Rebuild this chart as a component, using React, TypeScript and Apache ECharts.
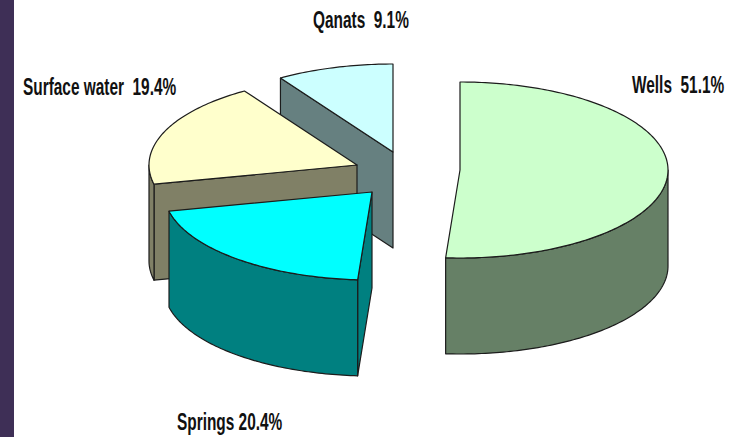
import React, { useEffect, useRef } from "react";
import * as echarts from "echarts";

// ---- data ----
const NAMES = ["Wells", "Springs", "Surface water", "Qanats"];
const VALUES = [51.1, 20.4, 19.4, 9.1];
const LABEL_GAPS = ["  ", " ", "  ", "  "];

// ---- style ----
const TOP_COLORS = ["#ccffcc", "#00ffff", "#ffffcc", "#ccffff"];
const SIDE_COLORS = ["#668066", "#008080", "#808066", "#668080"];
const EDGE = "#1c1c1c";
const LABEL_FONT = 'bold 23px "Liberation Sans", Arial, sans-serif';

// ---- layout ----
const PIE_CENTER = [400, 165];
const RX = 208;
const RY = 88;
const DEPTH = 96;
const EXPLODE = [
  [60, 5],
  [-28, 27],
  [-43, 0],
  [-7, -13],
];
const LABEL_POS = [
  [632, 85],
  [177, 422],
  [23, 87],
  [313, 20],
];
const LABEL_SCALE_X = 0.67;

const TOTAL = VALUES.reduce((s, v) => s + v, 0);
const STARTS = VALUES.map((_, i) => VALUES.slice(0, i).reduce((s, v) => s + v, 0));

function pt(cx: number, cy: number, t: number, dy = 0): number[] {
  return [cx + RX * Math.sin(t), cy - RY * Math.cos(t) + dy];
}
function arc(cx: number, cy: number, s: number, e: number, dy = 0): number[][] {
  const n = Math.max(2, Math.ceil(((e - s) * 180) / Math.PI));
  const out: number[][] = [];
  for (let k = 0; k <= n; k++) out.push(pt(cx, cy, s + ((e - s) * k) / n, dy));
  return out;
}

// drawing rank: back slices first (by front-ness of mid angle)
const MIDS = VALUES.map((v, i) => ((STARTS[i] + v / 2) / TOTAL) * Math.PI * 2);
const ORDER = MIDS.map((m, i) => i).sort((a, b) => Math.cos(MIDS[b]) - Math.cos(MIDS[a]));
const RANK: number[] = [];
ORDER.forEach((idx, r) => (RANK[idx] = r));

export default function App() {
  const ref = useRef<HTMLDivElement>(null);
  useEffect(() => {
    if (!ref.current) return;
    const chart = echarts.init(ref.current, undefined, { renderer: "svg" });
    const renderItem = (params: any, api: any) => {
      const i = params.dataIndex;
      const v = api.value(0);
      const t1 = (STARTS[i] / TOTAL) * Math.PI * 2;
      const t2 = t1 + (v / TOTAL) * Math.PI * 2;
      const cx = PIE_CENTER[0] + EXPLODE[i][0];
      const cy = PIE_CENTER[1] + EXPLODE[i][1];
      const base = RANK[i] * 10;
      const children: any[] = [];
      const sideStyle = { fill: SIDE_COLORS[i], stroke: EDGE, lineWidth: 1.2, lineJoin: "round" };
      const face = (t: number) => {
        const p = pt(cx, cy, t);
        return [[cx, cy], p, [p[0], p[1] + DEPTH], [cx, cy + DEPTH]];
      };
      if (-Math.sin(t1) > 1e-3) {
        children.push({ type: "polygon", z2: base + 1, shape: { points: face(t1) }, style: sideStyle });
      }
      if (Math.sin(t2) > 1e-3) {
        children.push({ type: "polygon", z2: base + 1, shape: { points: face(t2) }, style: sideStyle });
      }
      const ws = Math.max(t1, Math.PI / 2);
      const we = Math.min(t2, (Math.PI * 3) / 2);
      if (ws < we) {
        const pts = arc(cx, cy, ws, we).concat(arc(cx, cy, ws, we, DEPTH).reverse());
        children.push({ type: "polygon", z2: base + 2, shape: { points: pts }, style: sideStyle });
      }
      children.push({
        type: "polygon",
        z2: base + 3,
        shape: { points: [[cx, cy]].concat(arc(cx, cy, t1, t2)) },
        style: { fill: TOP_COLORS[i], stroke: EDGE, lineWidth: 1.2, lineJoin: "round" },
      });
      children.push({
        type: "text",
        z2: 100,
        x: LABEL_POS[i][0],
        y: LABEL_POS[i][1],
        scaleX: LABEL_SCALE_X,
        style: {
          text: `${NAMES[i]}${LABEL_GAPS[i]}${v}%`,
          font: LABEL_FONT,
          fill: "#111111",
          align: "left",
          verticalAlign: "middle",
        },
      });
      return { type: "group", children };
    };
    chart.setOption({
      animation: false,
      backgroundColor: "#ffffff",
      graphic: [
        {
          type: "rect",
          left: 0,
          top: 0,
          shape: { x: 0, y: 0, width: 14, height: 437 },
          style: { fill: "#3e2f56" },
        },
      ],
      series: [
        {
          type: "custom",
          coordinateSystem: "none",
          silent: true,
          data: VALUES.map((v, i) => ({ name: NAMES[i], value: [v] })),
          renderItem,
        },
      ],
    });
    return () => chart.dispose();
  }, []);
  return (
    <div
      ref={ref}
      style={{ position: "fixed", left: 0, top: 0, width: 729, height: 437, background: "#fff" }}
    />
  );
}
